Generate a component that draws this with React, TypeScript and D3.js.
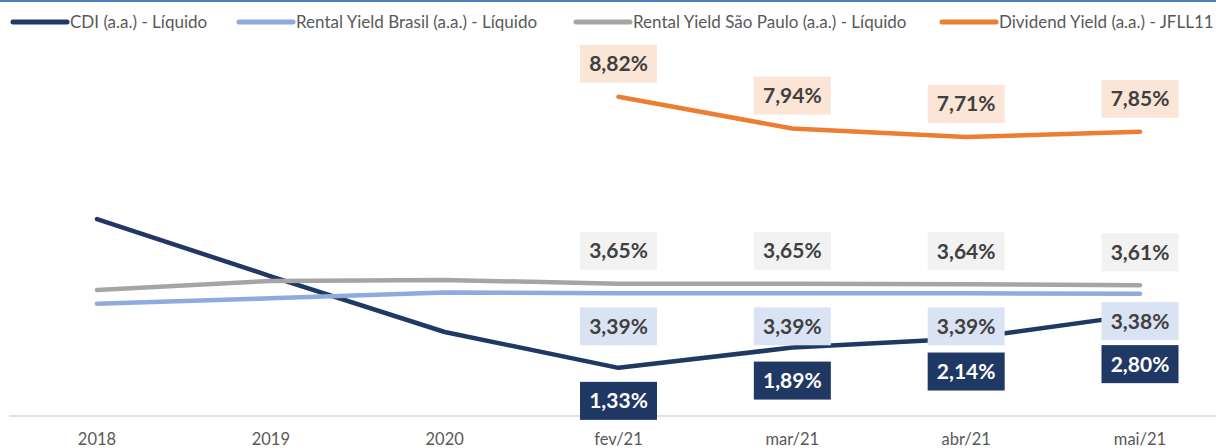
import React from 'react';
import * as d3 from 'd3';

const categories = ['2018', '2019', '2020', 'fev/21', 'mar/21', 'abr/21', 'mai/21'];
const cdi = [5.44, 3.86, 2.32, 1.33, 1.89, 2.14, 2.8];
const rentalBrasil = [3.1, 3.25, 3.41, 3.39, 3.39, 3.39, 3.38];
const rentalSP = [3.48, 3.73, 3.76, 3.65, 3.65, 3.64, 3.61];
const dividend = [null, null, null, 8.82, 7.94, 7.71, 7.85];
const seriesNames = [
  'CDI (a.a.) - Líquido',
  'Rental Yield Brasil (a.a.) - Líquido',
  'Rental Yield São Paulo (a.a.) - Líquido',
  'Dividend Yield (a.a.) - JFLL11',
];
const firstLabelled = 3;

const W = 1216;
const H = 448;
const FONT = "Lato, 'Open Sans', sans-serif";

type Val = number | null;

const series = [
  { name: seriesNames[0], values: cdi as Val[], color: '#1F3864', box: '#203864', text: '#FFFFFF', side: 1 },
  { name: seriesNames[1], values: rentalBrasil as Val[], color: '#8FAADC', box: '#DAE3F3', text: '#404040', side: 1 },
  { name: seriesNames[2], values: rentalSP as Val[], color: '#A5A5A5', box: '#F2F2F2', text: '#404040', side: -1 },
  { name: seriesNames[3], values: dividend as Val[], color: '#ED7D31', box: '#FBE5D6', text: '#404040', side: -1 },
];

const legendX = [11, 237, 574, 940];

const fmt = (v: number) => v.toFixed(2).replace('.', ',') + '%';

export default function App() {
  const x = d3.scalePoint<string>().domain(categories).range([97, 1140]);
  const y = d3.scaleLinear().domain([0, 10]).range([416, 54]);

  const line = d3
    .line<Val>()
    .defined((d) => d != null)
    .x((_, i) => x(categories[i]) as number)
    .y((d) => y(d as number));

  const boxW = 77;
  const boxH = 38;
  const offset = 33;

  // label centres; CDI and Brasil labels (both below) are pushed apart when they collide
  const labels: { cx: number; cy: number; s: (typeof series)[number]; v: number; key: string }[] = [];
  categories.forEach((c, i) => {
    if (i < firstLabelled) return;
    const cx = x(c) as number;
    const pos = series.map((s) => {
      const v = s.values[i];
      return v == null ? null : y(v) + s.side * offset;
    });
    const a = pos[1];
    const b = pos[0];
    if (a != null && b != null && b - a < boxH + 5) {
      const need = boxH + 5 - (b - a);
      pos[1] = a - need * 0.25;
      pos[0] = b + need * 0.75;
    }
    series.forEach((s, k) => {
      const v = s.values[i];
      if (v == null || pos[k] == null) return;
      labels.push({ cx, cy: pos[k] as number, s, v, key: `${k}-${i}` });
    });
  });

  return (
    <svg width={W} height={H} style={{ position: 'absolute', left: 0, top: 0, background: '#fff' }}>
      <rect x={0} y={0} width={W} height={2} fill="#4A7EBB" />

      {/* legend */}
      {series.map((s, k) => (
        <g key={s.name} transform={`translate(${legendX[k]},22)`}>
          <line x1={2} x2={56} y1={0} y2={0} stroke={s.color} strokeWidth={5} strokeLinecap="round" />
          <text x={59} y={0} dy="0.35em" fontFamily={FONT} fontSize={17} fill="#595959">
            {s.name}
          </text>
        </g>
      ))}

      {/* axis */}
      <line x1={9} x2={W} y1={y(0)} y2={y(0)} stroke="#D9D9D9" strokeWidth={1.5} />
      {categories.map((c) => (
        <text key={c} x={x(c)} y={445} textAnchor="middle" fontFamily={FONT} fontSize={16.5} fill="#595959">
          {c}
        </text>
      ))}

      {/* lines */}
      {series.map((s) => (
        <path
          key={s.name}
          d={line(s.values) || ''}
          fill="none"
          stroke={s.color}
          strokeWidth={4.5}
          strokeLinecap="round"
          strokeLinejoin="round"
        />
      ))}

      {/* data labels */}
      {labels.map((l) => (
        <g key={l.key} transform={`translate(${l.cx},${l.cy})`}>
          <rect x={-boxW / 2} y={-boxH / 2} width={boxW} height={boxH} fill={l.s.box} />
          <text dy="0.36em" textAnchor="middle" fontFamily={FONT} fontSize={21} fontWeight="bold" fill={l.s.text}>
            {fmt(l.v)}
          </text>
        </g>
      ))}
    </svg>
  );
}
